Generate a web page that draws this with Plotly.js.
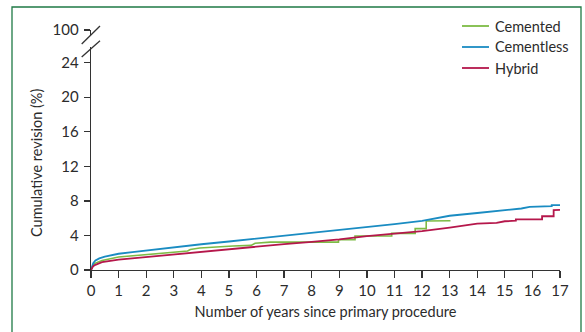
<!DOCTYPE html>
<html>
<head>
<meta charset="utf-8">
<script src="https://cdn.plot.ly/plotly-3.0.1.min.js"></script>
<style>html,body{margin:0;padding:0;background:#fff;}#chart{width:585px;height:332px;}</style>
</head>
<body>
<div id="chart"></div>
<script>
const seriesNames = ['Cemented', 'Cementless', 'Hybrid'];
const seriesColors = ['#7dbb45', '#1a8cc2', '#b5174b'];
// Cemented
const cementedYears = [0, 0.03, 0.08, 0.16, 0.4, 1, 2, 3, 3.5, 3.6, 3.94, 5.15, 5.8, 5.95, 6.5, 7.57, 8.97, 8.97, 9.57, 9.57, 10.9, 10.9, 11.75, 11.75, 12.15, 12.15, 13.03];
const cementedRev   = [0, 0.3, 0.6, 0.8, 1.1, 1.5, 1.8, 2.07, 2.2, 2.38, 2.54, 2.77, 2.85, 3.1, 3.23, 3.23, 3.23, 3.51, 3.51, 3.93, 3.93, 4.24, 4.24, 4.79, 4.79, 5.68, 5.7];
// Cementless
const cementlessYears = [0, 0.03, 0.08, 0.16, 0.3, 0.5, 1, 1.5, 2, 3, 4, 5, 6, 7, 8, 9, 10, 11, 12, 13, 14, 15, 15.6, 15.9, 16.7, 16.7, 17];
const cementlessRev   = [0, 0.4, 0.8, 1.1, 1.35, 1.55, 1.88, 2.08, 2.27, 2.63, 2.98, 3.3, 3.62, 3.95, 4.3, 4.6, 4.93, 5.3, 5.68, 6.28, 6.6, 6.9, 7.12, 7.3, 7.38, 7.5, 7.5];
// Hybrid
const hybridYears = [0, 0.03, 0.08, 0.16, 0.4, 1, 2, 3, 3.8, 5, 6, 7, 7.9, 9, 10, 11, 12, 13, 13.5, 14, 14.7, 15, 15.4, 15.4, 16.35, 16.35, 16.77, 16.77, 17];
const hybridRev   = [0, 0.25, 0.45, 0.6, 0.9, 1.19, 1.5, 1.77, 2.0, 2.35, 2.7, 3.0, 3.23, 3.55, 3.93, 4.2, 4.5, 4.9, 5.1, 5.37, 5.45, 5.64, 5.7, 5.87, 5.87, 6.22, 6.22, 6.92, 6.95];

const xTicks = [0,1,2,3,4,5,6,7,8,9,10,11,12,13,14,15,16,17];
const yTickVals = [0,4,8,12,16,20,24,27.78];
const yTickText = ['0','4','8','12','16','20','24','100'];

const FONT = 'Lato, "Open Sans", sans-serif';
const TXT = '#2b2b2b';
const AX = '#333333';

const xs = [cementedYears, cementlessYears, hybridYears];
const ys = [cementedRev, cementlessRev, hybridRev];
const widths = [1.6, 1.8, 1.8];
const traces = seriesNames.map((n, i) => ({
  x: xs[i], y: ys[i], name: n, mode: 'lines', line: {color: seriesColors[i], width: widths[i]}
}));

function px(v){ return (v - 91) / 469; }
function py(v){ return (270 - v) / 240; }

const legendRowsY = [26, 47, 68];
const legendShapes = seriesNames.map((n, i) => ({
  type: 'line', xref: 'paper', yref: 'paper', x0: px(462), x1: px(489), y0: py(legendRowsY[i]), y1: py(legendRowsY[i]),
  line: {color: seriesColors[i], width: 1.8}, layer: 'above'
}));
const legendAnn = seriesNames.map((n, i) => ({
  text: n, xref: 'paper', yref: 'paper', x: px(493), y: py(legendRowsY[i]), xanchor: 'left', yanchor: 'middle',
  showarrow: false, font: {family: FONT, size: 14.5, color: TXT}
}));

const layout = {
  width: 585, height: 332,
  margin: {l: 91, r: 25, t: 30, b: 62, pad: 0},
  paper_bgcolor: '#fff', plot_bgcolor: '#fff',
  font: {family: FONT, size: 15, color: TXT},
  showlegend: false,
  xaxis: {range: [0, 17], tickvals: xTicks, ticktext: xTicks.map(String),
          showgrid: false, zeroline: false, showline: true, linecolor: AX, linewidth: 1.3,
          ticks: 'outside', ticklen: 7, tickwidth: 1.3, tickcolor: AX,
          tickfont: {family: FONT, size: 15, color: TXT},
          title: {text: 'Number of years since primary procedure', font: {family: FONT, size: 14.5, color: TXT}, standoff: 8},
          fixedrange: true},
  yaxis: {range: [0, 27.78], tickvals: yTickVals, ticktext: yTickText,
          showgrid: false, zeroline: false, showline: true, linecolor: AX, linewidth: 1.3,
          ticks: 'outside', ticklen: 6, tickwidth: 1.3, tickcolor: AX,
          tickfont: {family: FONT, size: 15, color: TXT}, ticklabelstandoff: 2,
          fixedrange: true},
  annotations: [
    {text: 'Cumulative revision (%)', textangle: -90, xref: 'paper', yref: 'paper',
     x: px(36), y: py(163), xanchor: 'center', yanchor: 'middle', showarrow: false,
     font: {family: FONT, size: 14.5, color: TXT}}
  ].concat(legendAnn),
  shapes: [
    {type: 'rect', xref: 'paper', yref: 'paper', x0: px(87), x1: px(96), y0: py(47), y1: py(35),
     fillcolor: '#ffffff', line: {width: 0}, layer: 'above'},
    {type: 'line', xref: 'paper', yref: 'paper', x0: px(81.7), y0: py(44), x1: px(100), y1: py(26),
     line: {color: AX, width: 1.3}, layer: 'above'},
    {type: 'line', xref: 'paper', yref: 'paper', x0: px(81.7), y0: py(57), x1: px(100), y1: py(40.7),
     line: {color: AX, width: 1.3}, layer: 'above'},
    {type: 'path', xref: 'paper', yref: 'paper',
     path: 'M ' + px(12) + ',' + py(340) + ' L ' + px(12) + ',' + py(7) + ' L ' + px(581) + ',' + py(7) + ' L ' + px(581) + ',' + py(340),
     line: {color: '#1f7a45', width: 1.3}, layer: 'above'}
  ].concat(legendShapes)
};

Plotly.newPlot('chart', traces, layout, {displayModeBar: false, staticPlot: true});
</script>
</body>
</html>
